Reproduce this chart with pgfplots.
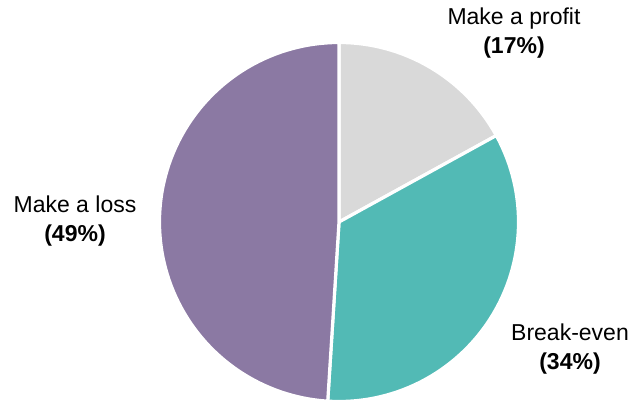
\documentclass[border=0pt]{standalone}
\usepackage{pgfplots}
\pgfplotsset{compat=1.18}
\usepackage{fontspec}
\setmainfont{Liberation Sans}
\definecolor{cprofit}{RGB}{217,217,217}
\definecolor{cbreak}{RGB}{82,186,181}
\definecolor{closs}{RGB}{139,121,163}
\begin{document}
\begin{tikzpicture}
% shares (percent)
\def\vprofit{17}\def\vbreak{34}\def\vloss{49}
\pgfmathsetmacro{\aA}{90}
\pgfmathsetmacro{\aB}{\aA-3.6*\vprofit}
\pgfmathsetmacro{\aC}{\aB-3.6*\vbreak}
\pgfmathsetmacro{\aD}{\aC-3.6*\vloss}
\def\cx{339}\def\cy{178}\def\r{179.5}
\begin{axis}[
  width=633pt, height=400pt, scale only axis,
  xmin=0, xmax=633, ymin=0, ymax=400,
  hide axis, clip=false,
]
\addplot[fill=cprofit, draw=white, line width=3.2pt, line join=round, domain=\aB:\aA, samples=80]
  ({\cx+\r*cos(x)},{\cy+\r*sin(x)}) -- (axis cs:\cx,\cy) -- cycle;
\addplot[fill=cbreak, draw=white, line width=3.2pt, line join=round, domain=\aC:\aB, samples=120]
  ({\cx+\r*cos(x)},{\cy+\r*sin(x)}) -- (axis cs:\cx,\cy) -- cycle;
\addplot[fill=closs, draw=white, line width=3.2pt, line join=round, domain=\aD:\aC, samples=160]
  ({\cx+\r*cos(x)},{\cy+\r*sin(x)}) -- (axis cs:\cx,\cy) -- cycle;
\node[align=center, font=\fontsize{23}{29}\selectfont] at (axis cs:514,367) {Make a profit\\\textbf{(17\%)}};
\node[align=center, font=\fontsize{23}{29}\selectfont] at (axis cs:75,179) {Make a loss\\\textbf{(49\%)}};
\node[align=center, font=\fontsize{23}{29}\selectfont] at (axis cs:570,51) {Break-even\\\textbf{(34\%)}};
\end{axis}
\pgfresetboundingbox
\path (current axis.south west) rectangle (current axis.north east);
\end{tikzpicture}
\end{document}
